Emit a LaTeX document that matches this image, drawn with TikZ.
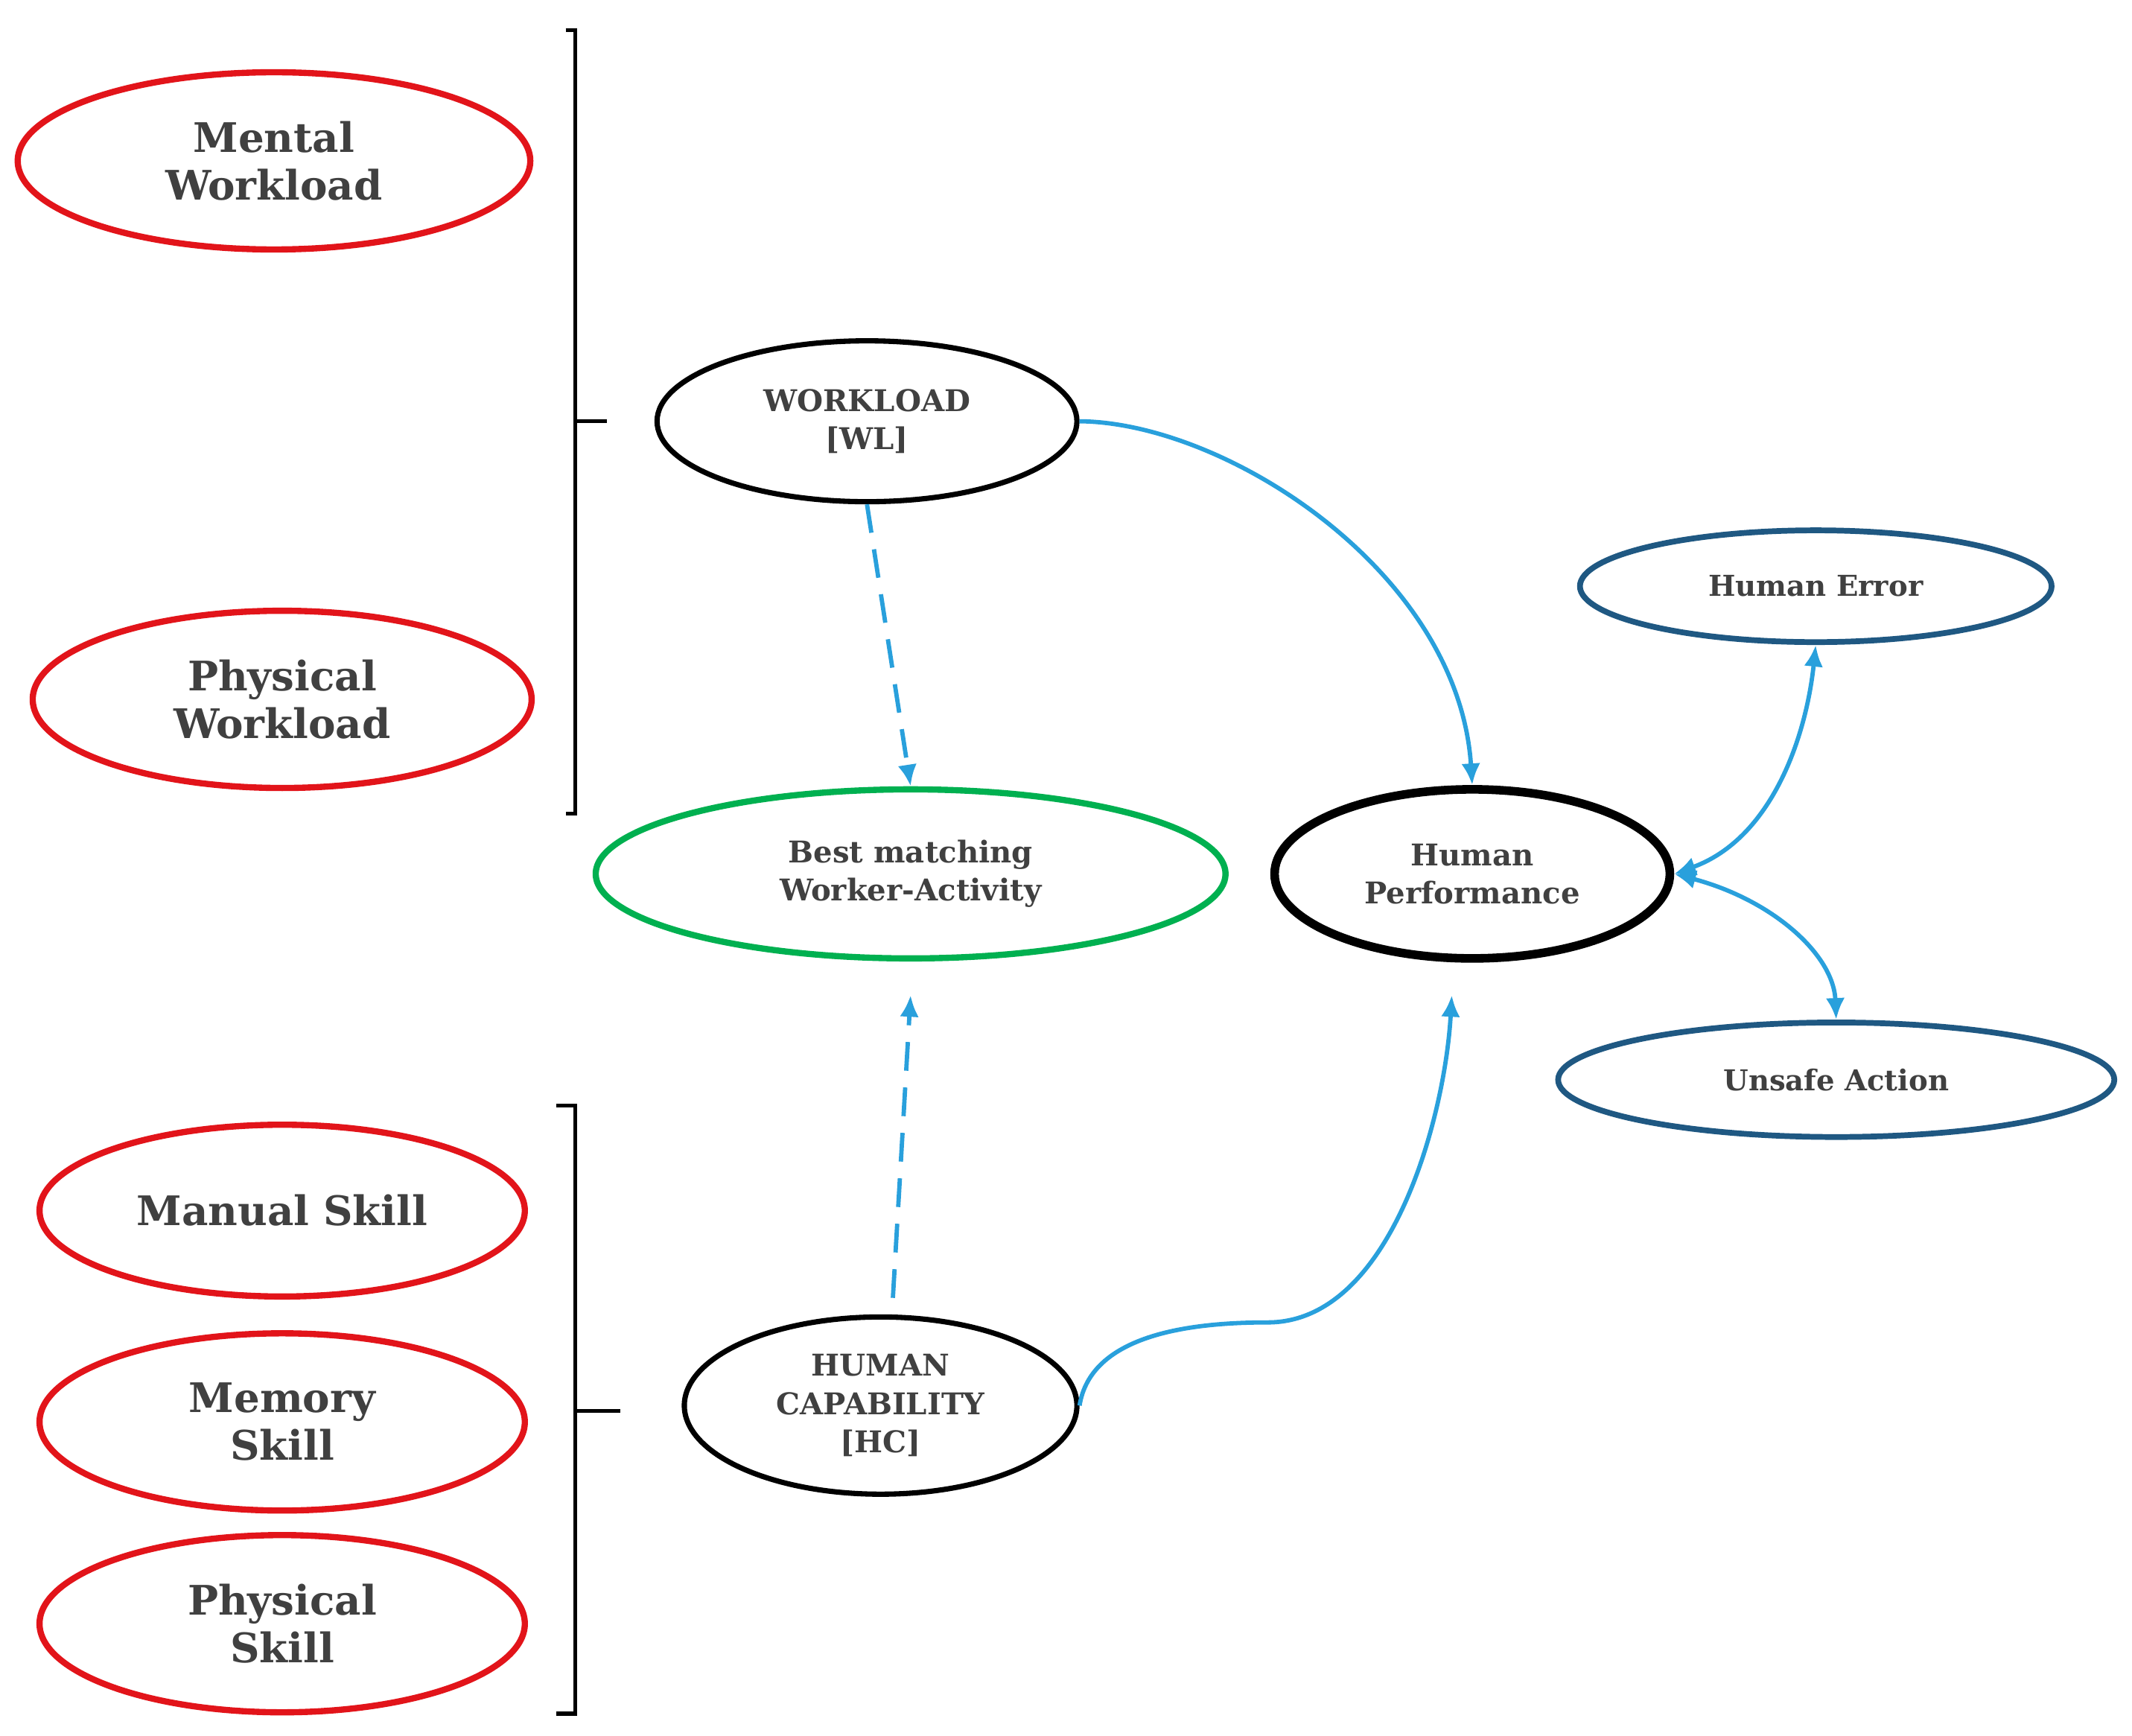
\documentclass[tikz,border=0pt]{standalone}
\usepackage{fontspec}
\setmainfont{DejaVu Serif}
\usetikzlibrary{arrows.meta,shapes.geometric}
\definecolor{redE}{RGB}{226,20,26}
\definecolor{greenE}{RGB}{0,176,80}
\definecolor{blueE}{RGB}{31,88,130}
\definecolor{arr}{RGB}{41,160,220}
\definecolor{txt}{RGB}{64,64,64}
\begin{document}
\begin{tikzpicture}[x=0.02cm,y=-0.02cm,
  red/.style={draw=redE,line width=2.6pt,text=txt,font=\fontsize{17}{20}\selectfont\bfseries,align=center},
  blk/.style={draw=black,line width=2.2pt,text=txt,font=\fontsize{12.5}{16}\selectfont\bfseries,align=center},
  blu/.style={draw=blueE,line width=2.4pt,text=txt,font=\fontsize{12}{15}\selectfont\bfseries,align=center},
  a/.style={draw=arr,line width=1.8pt,-{Latex[length=9pt,width=8pt]}},
  ab/.style={draw=arr,line width=1.8pt,{Latex[length=9pt,width=8pt]}-{Latex[length=9pt,width=8pt]}},
  dsh/.style={a,dash pattern=on 12pt off 7pt},
  brk/.style={line width=1.6pt}]
\useasboundingbox (0,0) rectangle (1564,1273);
\tikzset{every node/.append style={shape=ellipse,inner sep=0pt}}
\newcommand\myell[6]{\node[#1,minimum width=#4*2*0.02cm,minimum height=#5*2*0.02cm] (#6) at (#2,#3)}
\myell{red}{201}{118}{188}{65}{mw} {Mental\\Workload};
\myell{red}{207}{513}{183}{65}{pw} {Physical\\Workload};
\myell{red}{207}{888}{178}{63}{ms} {Manual Skill};
\myell{red}{207}{1043}{178}{65}{mem} {Memory\\Skill};
\myell{red}{207}{1191}{178}{65}{ps} {Physical\\Skill};
\myell{blk}{636}{309}{154}{59}{wl} {WORKLOAD\\{[WL]}};
\myell{blk}{646}{1031}{144}{65}{hc} {HUMAN\\CAPABILITY\\{[HC]}};
\node[draw=greenE,line width=2.6pt,text=txt,font=\fontsize{12.5}{16}\selectfont\bfseries,align=center,minimum width=462*0.02cm,minimum height=124*0.02cm] (bm) at (668,641) {Best matching\\Worker-Activity};
\node[draw=black,line width=3.6pt,text=txt,font=\fontsize{12.5}{16}\selectfont\bfseries,align=center,minimum width=290*0.02cm,minimum height=124*0.02cm] (hp) at (1080,641) {Human\\Performance};
\myell{blu}{1332}{430}{173}{41}{he} {Human Error};
\myell{blu}{1347}{792}{204}{42}{ua} {Unsafe Action};
% brackets
\draw[brk] (415,22) -- (422,22) -- (422,597) -- (415,597);
\draw[brk] (422,309) -- (445,309);
\draw[brk] (408,811) -- (422,811) -- (422,1257) -- (408,1257);
\draw[brk] (422,1035) -- (455,1035);
% connectors
\coordinate (bmb) at (668,730);
\coordinate (hcs) at (655,952);
\coordinate (hpb) at (1065,730);
\draw[dsh] (wl.south) -- (bm.north);
\draw[dsh] (hcs) -- (bmb);
\draw[a] (wl.east) .. controls (900,310) and (1070,420) .. (hp.north);
\draw[a] (hc.east) .. controls (800,980) and (870,970) .. (930,970) .. controls (1020,970) and (1060,820) .. (hpb);
\draw[ab] (hp.east) .. controls (1300,615) and (1325,540) .. (he.south);
\draw[ab] (hp.east) .. controls (1300,660) and (1345,700) .. (ua.north);
\end{tikzpicture}
\end{document}
